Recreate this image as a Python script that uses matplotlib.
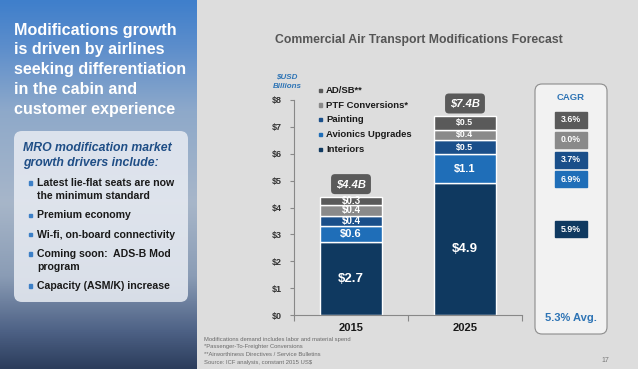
import numpy as np
import matplotlib
matplotlib.use("Agg")
import matplotlib.pyplot as plt
from matplotlib.patches import FancyBboxPatch, Rectangle
from matplotlib.colors import to_rgb

plt.rcParams['font.family'] = ['Liberation Sans', 'DejaVu Sans']

# ---------------- data ----------------
years = ["2015", "2025"]
segments = ["Interiors", "Avionics Upgrades", "Painting", "PTF Conversions*", "AD/SB**"]
interiors = [2.7, 4.9]
avionics = [0.6, 1.1]
painting = [0.4, 0.5]
ptf = [0.4, 0.4]
adsb = [0.3, 0.5]
totals = ["$4.4B", "$7.4B"]
cagr = ["5.9%", "6.9%", "3.7%", "0.0%", "3.6%"]   # same order as segments
cagr_avg = "5.3% Avg."
yticks = [0, 1, 2, 3, 4, 5, 6, 7, 8]
ytick_labels = ["$0", "$1", "$2", "$3", "$4", "$5", "$6", "$7", "$8"]

headline = ["Modifications growth", "is driven by airlines", "seeking differentiation",
            "in the cabin and", "customer experience"]
drivers_title = ["MRO modification market", "growth drivers include:"]
bullets = [["Latest lie-flat seats are now", "the minimum standard"],
           ["Premium economy"],
           ["Wi-fi, on-board connectivity"],
           ["Coming soon:  ADS-B Mod", "program"],
           ["Capacity (ASM/K) increase"]]
footnotes = ["Modifications demand includes labor and material spend",
             "*Passenger-To-Freighter Conversions",
             "**Airworthiness Directives / Service Bulletins",
             "Source: ICF analysis, constant 2015 US$"]

series = [interiors, avionics, painting, ptf, adsb]
colors = ["#0f3960", "#1f6eb8", "#1a4f8a", "#8a8a8a", "#5a5a5a"]

W, H = 638, 369
fig = plt.figure(figsize=(W / 100, H / 100), dpi=100)
fig.patch.set_facecolor("#dddddd")

# background axes in pixel coords
bg = fig.add_axes([0, 0, 1, 1])
bg.set_xlim(0, W)
bg.set_ylim(H, 0)
bg.axis("off")
bg.add_patch(Rectangle((0, 0), W, H, color="#dddddd", zorder=0))

# left panel gradient
stops_y = [0, 0.12, 0.3, 0.55, 0.75, 0.9, 1.0]
stops_c = ["#3f7fcb", "#5b8dcc", "#8ea9ca", "#a7b6c9", "#8a9cb5", "#4d6185", "#2c3d5c"]
n = 200
t = np.linspace(0, 1, n)
rgb = np.array([to_rgb(c) for c in stops_c])
grad = np.stack([np.interp(t, stops_y, rgb[:, k]) for k in range(3)], axis=-1)
grad = np.repeat(grad[:, None, :], 2, axis=1)
bg.imshow(grad, extent=[0, 197, H, 0], aspect="auto", zorder=1)

for i, line in enumerate(headline):
    bg.text(14, 30 + i * 19.8, line, color="white", fontsize=11.6, fontweight="bold",
            va="center", ha="left", zorder=3)

box = FancyBboxPatch((14, 131), 174, 171, boxstyle="round,pad=0,rounding_size=8",
                     facecolor="#e6eaf1", edgecolor="none", alpha=0.88, zorder=2)
bg.add_patch(box)
for i, line in enumerate(drivers_title):
    bg.text(23, 148 + i * 15, line, color="#1f4e86", fontsize=8.8, fontweight="bold",
            style="italic", va="center", ha="left", zorder=3)
by = 183
for b in bullets:
    bg.add_patch(Rectangle((28.5, by - 1.8), 3.4, 3.4, color="#3c7fc6", zorder=3))
    for j, line in enumerate(b):
        bg.text(37, by + j * 13, line, color="#1a1a1a", fontsize=7.6, fontweight="bold",
                va="center", ha="left", zorder=3)
    by += 13 * (len(b) - 1) + 19.3

# title
bg.text(418.5, 40, "Commercial Air Transport Modifications Forecast", color="#555555",
        fontsize=8.8, fontweight="bold", ha="center", va="center", zorder=3)
bg.text(287, 77, "$USD", color="#2e74b5", fontsize=5.8, fontweight="bold", style="italic",
        ha="center", va="center", zorder=3)
bg.text(287, 86, "Billions", color="#2e74b5", fontsize=5.8, fontweight="bold", style="italic",
        ha="center", va="center", zorder=3)

# legend
leg_y = [90.7, 105, 119.7, 134.7, 149.7]
for k, idx in enumerate([4, 3, 2, 1, 0]):
    bg.add_patch(Rectangle((319, leg_y[k] - 1.6), 3.3, 3.3, color=colors[idx], zorder=3))
    bg.text(326, leg_y[k], segments[idx], color="#1a1a1a", fontsize=6.8, fontweight="bold",
            ha="left", va="center", zorder=3)

# footnotes
for i, line in enumerate(footnotes):
    bg.text(204, 339 + i * 7.7, line, color="#6a6a6a", fontsize=4.2, ha="left",
            va="center", zorder=3)
bg.text(605, 361, "17", color="#777777", fontsize=5, ha="center", va="center", zorder=3)

# CAGR panel
cbox = FancyBboxPatch((535, 84), 72, 250, boxstyle="round,pad=0,rounding_size=7",
                      facecolor="#f2f2f2", edgecolor="#8c8c8c", linewidth=0.8, zorder=2)
bg.add_patch(cbox)
bg.text(571, 97, "CAGR", color="#2e74b5", fontsize=6.8, fontweight="bold",
        ha="center", va="center", zorder=3)
cagr_y = [229, 179, 159.5, 140, 120]
for k in range(5):
    bg.add_patch(Rectangle((555, cagr_y[k] - 8), 32, 16, color=colors[k], zorder=3))
    bg.text(571, cagr_y[k], cagr[k], color="white", fontsize=6.3, fontweight="bold",
            ha="center", va="center", zorder=4)
bg.text(571, 318, cagr_avg, color="#2e74b5", fontsize=8, fontweight="bold",
        ha="center", va="center", zorder=3)

# chart axes
ax = fig.add_axes([294 / W, (H - 315) / H, 228 / W, 215 / H])
ax.set_facecolor("none")
x = np.arange(len(years))
bottom = np.zeros(len(years))
for k, vals in enumerate(series):
    v = np.array(vals)
    ax.bar(x, v, bottom=bottom, width=0.55, color=colors[k], edgecolor="white",
           linewidth=1.0, zorder=2)
    for i in range(len(years)):
        fs = 9.5 if v[i] >= 2 else (8 if v[i] >= 0.6 else 7)
        if i == 1 and v[i] < 0.6:
            fs = 6.3
        ax.text(x[i], bottom[i] + v[i] / 2, f"${v[i]:.1f}", color="white",
                fontsize=fs, fontweight="bold", ha="center", va="center", zorder=3)
    bottom += v
for i in range(len(years)):
    ax.text(x[i], bottom[i] + 0.47, totals[i], color="white", fontsize=8,
            fontweight="bold", style="italic", ha="center", va="center", zorder=4,
            bbox=dict(boxstyle="round,pad=0.45,rounding_size=0.35", facecolor="#5a5a5a",
                      edgecolor="none"))

ax.set_xlim(-0.5, 1.5)
ax.set_ylim(0, 8)
ax.set_yticks(yticks)
ax.set_yticklabels(ytick_labels, fontsize=6.5, fontweight="bold", color="#333333")
ax.set_xticks([-0.5, 0.5, 1.5])
ax.set_xticklabels([])
for i, yr in enumerate(years):
    ax.text(x[i], -0.48, yr, fontsize=8, fontweight="bold", color="#1a1a1a",
            ha="center", va="center", clip_on=False)
ax.tick_params(axis="y", length=3, width=0.8, color="#888888", pad=6)
ax.tick_params(axis="x", length=4, width=0.8, color="#888888", direction="out")
for s in ["top", "right"]:
    ax.spines[s].set_visible(False)
for s in ["left", "bottom"]:
    ax.spines[s].set_color("#888888")
    ax.spines[s].set_linewidth(0.8)

fig.savefig("out.png", dpi=100)
